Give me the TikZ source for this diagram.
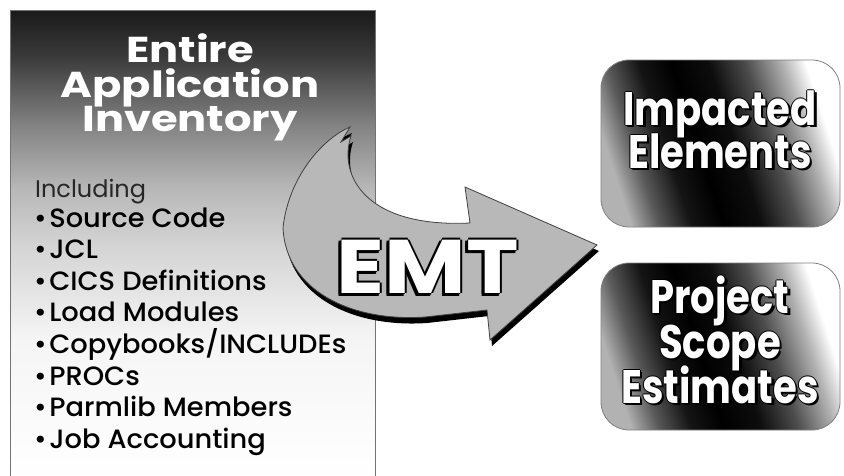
\documentclass[tikz,border=0pt]{standalone}
\usepackage{fontspec}
\setmainfont{Poppins}
\newfontfamily\titlefont{Poppins}[FakeStretch=1.2]
\newfontfamily\listfont{Poppins Medium}[FakeStretch=1.03]
\newfontfamily\boxfont{Poppins}[FakeStretch=0.82]
\newfontfamily\emtfont{Poppins}[FakeStretch=1.17]
\usetikzlibrary{positioning}
\definecolor{arrowgray}{RGB}{184,184,184}
\pgfdeclareverticalshading{inventory}{100bp}{color(0bp)=(white); color(25bp)=(white); color(40bp)=(white!96!black); color(50bp)=(black!17); color(56bp)=(black!28); color(62.5bp)=(black!48); color(70bp)=(black!77); color(75bp)=(black!90); color(100bp)=(black!90)}
\pgfdeclarehorizontalshading{outcome}{100bp}{color(0bp)=(black!30); color(25bp)=(black!30); color(31bp)=(black!65); color(38bp)=(black!92); color(45bp)=(black); color(53bp)=(black!95); color(61bp)=(black!70); color(69bp)=(black!30); color(74bp)=(white); color(100bp)=(white)}
\newcommand\boxline[3]{%
  \foreach \sx/\sy in {2.5/-2.5,1/0,-1/0,0/1,0/-1}
    \node[boxtext,text=black,xshift=\sx pt,yshift=\sy pt] at #2 {#3};
  \node[boxtext] (#1) at #2 {#3};}
\def\emtarrow{(350,127) .. controls (320,140) and (288,180) .. (283,228)
  .. controls (286,290) and (350,322) .. (425,317) -- (487,310) -- (490,340)
  -- (597,245) -- (465,187) -- (470,223)
  .. controls (365,228) and (338,175) .. (351,136) -- (341,142) -- cycle}

\begin{document}
\begin{tikzpicture}[x=1pt,y=-1pt]
  \useasboundingbox (0,0) rectangle (844,475);
  \clip (0,0) rectangle (844,475);
  \tikzstyle{title}=[text=white,anchor=base,font=\titlefont\bfseries\fontsize{36}{36}\selectfont]
  \tikzstyle{entry}=[anchor=base west,inner sep=0pt,font=\listfont\fontsize{26.5}{26.5}\selectfont]
  \tikzstyle{boxtext}=[text=white,anchor=base,font=\boxfont\bfseries\fontsize{47}{47}\selectfont]
  \tikzstyle{emt}=[text=white,anchor=base,font=\emtfont\bfseries\fontsize{76}{76}\selectfont]
  \tikzstyle{outbox}=[draw=black!50,line width=0.8pt,rounded corners=28pt,shading=outcome,shading angle=18]

  % inventory panel
  \draw[draw=black!55,line width=1pt,shading=inventory] (10,480) -- (10,10) -- (375,10) -- (375,480);
  \node[title] (entire) at (190,62) {Entire};
  \node[title] (appl) at (190,97) {Application};
  \node[title] (inv) at (190,131) {Inventory};
  \node[entry,text=black!85,font=\fontsize{24}{24}\selectfont] (incl) at (35,197) {Including};
  \foreach \t [count=\i from 0] in {Source Code,JCL,CICS Definitions,Load Modules,
      Copybooks/INCLUDEs,PROCs,Parmlib Members,Job Accounting}
    \node[entry] (item\i) at (34,227+31.6*\i) {•\hspace{2.5pt}\t};

  % big arrow
  \fill[black,shift={(2,6)}] \emtarrow;
  \filldraw[fill=arrowgray,draw=black!75,line width=0.8pt] \emtarrow;
  \foreach \sx/\sy in {-1.5/0,1.5/0,0/1.5,0/-1.5,-3/-3,-1.5/-3,-3/-1.5}
    \node[emt,text=black,xshift=\sx pt,yshift=\sy pt] at (428,293) {EMT};
  \node[emt] (emt) at (428,293) {EMT};

  % result boxes
  \path[outbox] (601,60) rectangle (840,227);
  \path[outbox] (601,263) rectangle (840,430);
  \boxline{imp}{(720,125)}{Impacted}
  \boxline{elem}{(720,168)}{Elements}
  \boxline{proj}{(720,313)}{Project}
  \boxline{scope}{(720,358)}{Scope}
  \boxline{est}{(720,403)}{Estimates}
\end{tikzpicture}
\end{document}
